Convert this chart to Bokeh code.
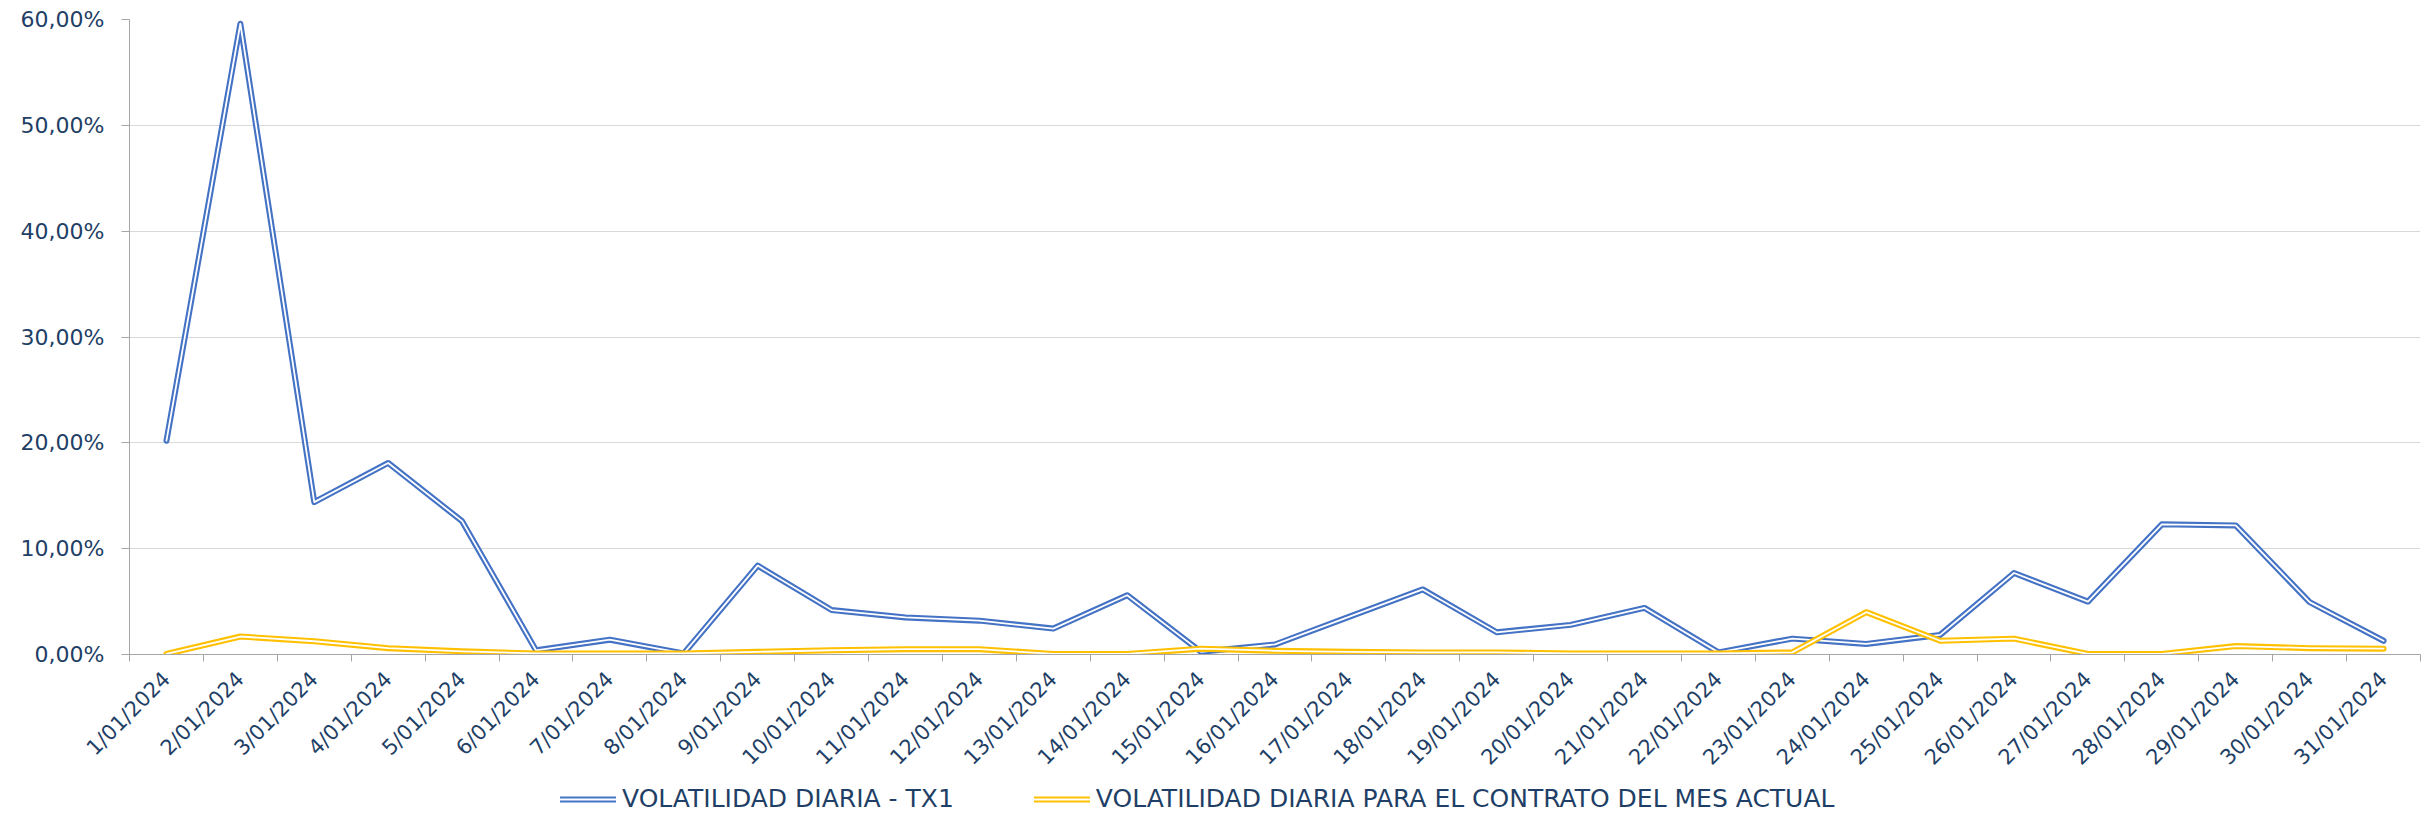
import math
from bokeh.plotting import figure
from bokeh.layouts import column
from bokeh.models import (FixedTicker, CustomJSTickFormatter, Legend, LegendItem, Range1d)
from bokeh.embed import file_html
from bokeh.resources import INLINE

days = list(range(1, 32))
date_labels = [f"{d}/01/2024" for d in days]
tx1 = [20.2, 59.6, 14.4, 18.1, 12.6, 0.4, 1.4, 0.1, 8.4, 4.2, 3.5, 3.2, 2.45, 5.6, 0.25,
       0.95, 3.55, 6.15, 2.1, 2.8, 4.4, 0.2, 1.5, 1.0, 1.85, 7.7, 5.0, 12.3, 12.2, 4.95, 1.3]
mes = [0.05, 1.7, 1.25, 0.6, 0.3, 0.1, 0.1, 0.1, 0.25, 0.4, 0.5, 0.5, 0.05, 0.05, 0.55,
       0.35, 0.25, 0.2, 0.2, 0.1, 0.1, 0.1, 0.2, 4.0, 1.3, 1.5, 0.05, 0.05, 0.8, 0.6, 0.55]
y_ticks = [0, 10, 20, 30, 40, 50, 60]
series_names = ["VOLATILIDAD DIARIA - TX1", "VOLATILIDAD DIARIA PARA EL CONTRATO DEL MES ACTUAL"]

TEXT = "#1F3F66"
AXIS = "#A6A6A6"
FONT = "DejaVu Sans"
BLUE = "#4472C4"
GOLD = "#FFC000"
W_OUT, W_IN = 6, 1.8

p = figure(width=2426, height=781, x_range=Range1d(0.5, 31.5), y_range=Range1d(0, 60),
           output_backend="svg", toolbar_location=None,
           min_border_left=129, min_border_right=6, min_border_top=19, min_border_bottom=127)
p.outline_line_color = None
p.background_fill_color = "white"
p.border_fill_color = "white"

# x axis
p.xaxis.ticker = FixedTicker(ticks=days, minor_ticks=[d + 0.5 for d in range(0, 32)])
p.xaxis.major_label_overrides = {d: lab for d, lab in zip(days, date_labels)}
p.xaxis.major_label_orientation = math.pi / 4
p.xaxis.major_tick_out = 0
p.xaxis.major_tick_in = 0
p.xaxis.minor_tick_out = 7
p.xaxis.minor_tick_in = 0
p.xaxis.minor_tick_line_color = AXIS
p.xaxis.axis_line_color = AXIS
p.xaxis.major_label_standoff = 14
p.xaxis.major_label_text_font = FONT
p.xaxis.major_label_text_font_size = "21px"
p.xaxis.major_label_text_color = TEXT

# y axis
p.yaxis.ticker = FixedTicker(ticks=y_ticks)
p.yaxis.formatter = CustomJSTickFormatter(code="return tick.toFixed(2).replace('.', ',') + '%';")
p.yaxis.major_tick_out = 8
p.yaxis.major_tick_in = 0
p.yaxis.minor_tick_line_color = None
p.yaxis.major_tick_line_color = AXIS
p.yaxis.axis_line_color = AXIS
p.yaxis.major_label_standoff = 17
p.yaxis.major_label_text_font = FONT
p.yaxis.major_label_text_font_size = "22px"
p.yaxis.major_label_text_color = TEXT

p.xgrid.grid_line_color = None
p.ygrid.ticker = FixedTicker(ticks=y_ticks)
p.ygrid.grid_line_color = "#D9D9D9"
p.ygrid.grid_line_width = 1.2

kw = dict(line_join="round", line_cap="round")
p.line(days, tx1, line_color=BLUE, line_width=W_OUT, **kw)
p.line(days, tx1, line_color="white", line_width=W_IN, **kw)
p.line(days, mes, line_color=GOLD, line_width=W_OUT, **kw)
p.line(days, mes, line_color="white", line_width=W_IN, **kw)

# legend strip (same series, drawn outside its visible range so only the legend shows)
lg = figure(width=2426, height=34, x_range=Range1d(0.5, 31.5), y_range=Range1d(1000, 1001),
            output_backend="svg", toolbar_location=None,
            x_axis_location=None, y_axis_location=None,
            min_border_left=0, min_border_right=0, min_border_top=0, min_border_bottom=0)
lg.grid.visible = False
lg.outline_line_color = None
lg.background_fill_color = "white"
lg.border_fill_color = "white"
b_out = lg.line(days, tx1, line_color=BLUE, line_width=W_OUT, **kw)
b_in = lg.line(days, tx1, line_color="white", line_width=W_IN, **kw)
y_out = lg.line(days, mes, line_color=GOLD, line_width=W_OUT, **kw)
y_in = lg.line(days, mes, line_color="white", line_width=W_IN, **kw)

legend = Legend(items=[LegendItem(label=series_names[0], renderers=[b_out, b_in]),
                       LegendItem(label=series_names[1], renderers=[y_out, y_in])],
                orientation="horizontal", location=(431, 2),
                glyph_width=56, glyph_height=20, label_standoff=6, spacing=80,
                padding=0, margin=0, border_line_color=None, background_fill_alpha=0,
                label_text_font=FONT, label_text_font_size="25px", label_text_color=TEXT)
lg.add_layout(legend)

layout = column(p, lg, spacing=0)
open("out.html", "w").write(file_html(layout, INLINE))
